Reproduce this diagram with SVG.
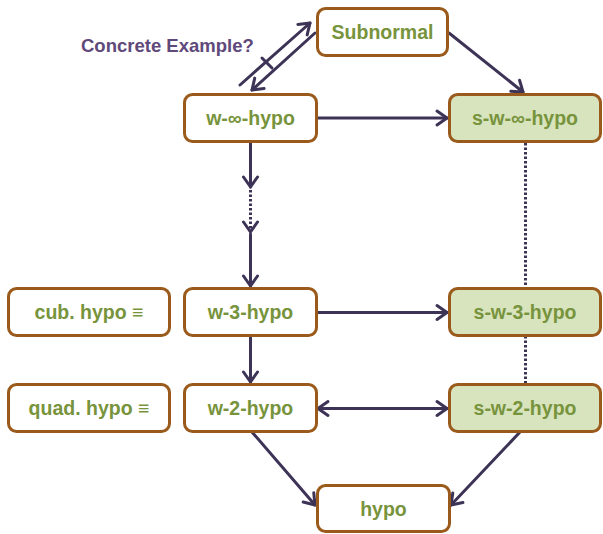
<svg xmlns="http://www.w3.org/2000/svg" width="603" height="534" viewBox="0 0 603 534">
  <defs>
    <marker id="head" markerUnits="userSpaceOnUse" markerWidth="20" markerHeight="20" viewBox="-12 -10 14 20" refX="0" refY="0" orient="auto-start-reverse">
      <path d="M-10,-7 L0,0 L-10,7" fill="none" stroke="#3d3356" stroke-width="3" stroke-linecap="round" stroke-linejoin="round"/>
    </marker>
    <style>
      .box { fill: #ffffff; stroke: #9a5a1c; stroke-width: 3; }
      .box.strong { fill: #d7e4bd; }
      .lbl { font-family: "Liberation Sans", Arial, sans-serif; font-weight: bold; font-size: 19.5px; fill: #77933c; text-anchor: middle; }
      .note { font-family: "Liberation Sans", Arial, sans-serif; font-weight: bold; font-size: 18.5px; fill: #5f497a; }
      .edge { fill: none; stroke: #3d3356; stroke-width: 3; stroke-linecap: round; }
      .arr { marker-end: url(#head); }
      .both { marker-start: url(#head); marker-end: url(#head); }
      .dots { stroke-dasharray: 2.5 2; stroke-linecap: butt; stroke-width: 3; }
    </style>
  </defs>

  <text class="note" x="81" y="52">Concrete Example?</text>

  <g id="connectors">
    <!-- Subnormal implication pair with the negation tick -->
    <path class="edge arr" d="M240,85 L310,23"/>
    <path class="edge arr" d="M315,33 L252,90"/>
    <path class="edge" d="M262,58 L272,68"/>
    <!-- top level -->
    <path class="edge arr" d="M449,33 L523,92"/>
    <path class="edge arr" d="M318,118 L447,118"/>
    <!-- left chain -->
    <path class="edge arr" d="M250.5,143 L250.5,187"/>
    <path class="edge arr dots" d="M250.5,190 L250.5,232"/>
    <path class="edge arr" d="M250.5,234 L250.5,286"/>
    <path class="edge arr" d="M250.5,337 L250.5,382"/>
    <!-- horizontals -->
    <path class="edge arr" d="M318,312.5 L447,312.5"/>
    <path class="edge both" d="M318,408.5 L447,408.5"/>
    <!-- right column dotted links -->
    <path class="edge dots" d="M525.5,143 L525.5,288"/>
    <path class="edge dots" d="M525.5,336 L525.5,384"/>
    <!-- to hypo -->
    <path class="edge arr" d="M252,432 L315,505"/>
    <path class="edge arr" d="M520,432 L451,505"/>
  </g>

  <g id="subnormal">
    <rect class="box" x="317.5" y="8.5" width="130" height="47" rx="8"/>
    <text class="lbl" x="382.5" y="39">Subnormal</text>
  </g>
  <g id="w-inf-hypo">
    <rect class="box" x="184.5" y="94.5" width="132" height="47" rx="8"/>
    <text class="lbl" x="250.5" y="125">w-∞-hypo</text>
  </g>
  <g id="s-w-inf-hypo">
    <rect class="box strong" x="449.5" y="94.5" width="151" height="47" rx="8"/>
    <text class="lbl" x="525" y="125">s-w-∞-hypo</text>
  </g>
  <g id="cub-hypo">
    <rect class="box" x="8.5" y="288.5" width="161" height="47" rx="8"/>
    <text class="lbl" x="89" y="319">cub. hypo ≡</text>
  </g>
  <g id="w-3-hypo">
    <rect class="box" x="184.5" y="288.5" width="132" height="47" rx="8"/>
    <text class="lbl" x="250.5" y="319">w-3-hypo</text>
  </g>
  <g id="s-w-3-hypo">
    <rect class="box strong" x="449.5" y="288.5" width="151" height="47" rx="8"/>
    <text class="lbl" x="525" y="319">s-w-3-hypo</text>
  </g>
  <g id="quad-hypo">
    <rect class="box" x="8.5" y="384.5" width="161" height="47" rx="8"/>
    <text class="lbl" x="89" y="415">quad. hypo ≡</text>
  </g>
  <g id="w-2-hypo">
    <rect class="box" x="184.5" y="384.5" width="132" height="47" rx="8"/>
    <text class="lbl" x="250.5" y="415">w-2-hypo</text>
  </g>
  <g id="s-w-2-hypo">
    <rect class="box strong" x="449.5" y="384.5" width="151" height="47" rx="8"/>
    <text class="lbl" x="525" y="415">s-w-2-hypo</text>
  </g>
  <g id="hypo">
    <rect class="box" x="317.5" y="485.5" width="132" height="46" rx="8"/>
    <text class="lbl" x="383.5" y="515.5">hypo</text>
  </g>
</svg>
